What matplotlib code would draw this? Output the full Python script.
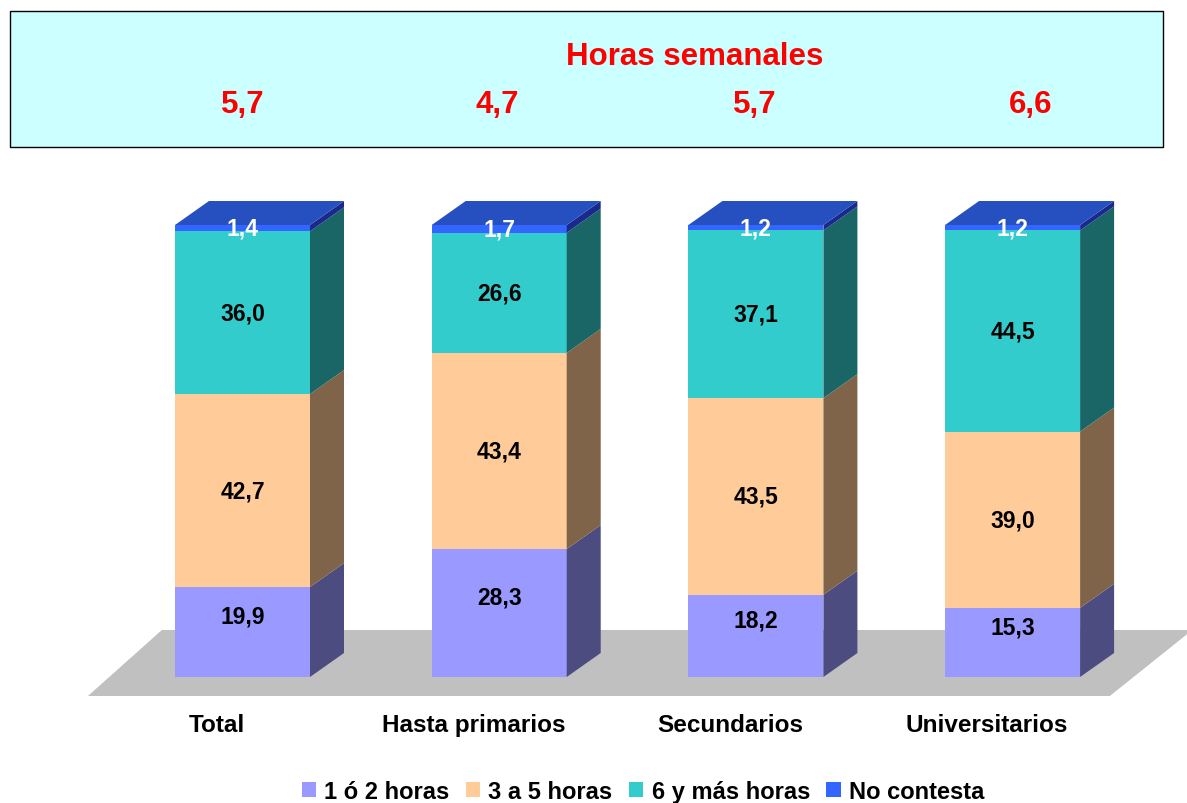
import matplotlib
matplotlib.use("Agg")
import matplotlib.pyplot as plt
from matplotlib.patches import Polygon, Rectangle, Patch
import numpy as np

# ---------------- data ----------------
categories = ["Total", "Hasta primarios", "Secundarios", "Universitarios"]
series_names = ["1 ó 2 horas", "3 a 5 horas", "6 y más horas", "No contesta"]
s_1a2 = [19.9, 28.3, 18.2, 15.3]
s_3a5 = [42.7, 43.4, 43.5, 39.0]
s_6mas = [36.0, 26.6, 37.1, 44.5]
s_nc = [1.4, 1.7, 1.2, 1.2]
horas_semanales = ["5,7", "4,7", "5,7", "6,6"]
header_title = "Horas semanales"

# ---------------- style ----------------
front_colors = ["#9999FF", "#FFCC99", "#33CCCC", "#3366FF"]
side_colors = ["#4C4C80", "#806449", "#1A6666", "#1A2A8C"]
top_color = "#264FC0"
label_colors = ["black", "black", "black", "white"]
label_dy = [3.5, 0.0, 0.0, 0.0]
FONT = "Liberation Sans"

W, H = 1187, 804
fig = plt.figure(figsize=(W / 100, H / 100), dpi=100)
ax = fig.add_axes([0, 0, 1, 1])

# pixel mapping set-up (x: category index, y: percent)
px_per_cat = 256.7
px_per_pct = 4.52
x0_px = 242.5
y0_px = 678.0
xmin = -x0_px / px_per_cat
xmax = xmin + W / px_per_cat
ymin = (y0_px - H) / px_per_pct
ymax = y0_px / px_per_pct
ax.set_xlim(xmin, xmax)
ax.set_ylim(ymin, ymax)
ax.axis("off")

bw = 135 / px_per_cat
ddx = 34 / px_per_cat
ddy = 24 / px_per_pct

# floor
floor = Polygon([(-0.602, -4.2), (3.379, -4.2), (3.70, 10.4), (-0.314, 10.4)],
                closed=True, facecolor="#C0C0C0", edgecolor="none", zorder=1)
ax.add_patch(floor)

series = [s_1a2, s_3a5, s_6mas, s_nc]
data = np.array(series)
cum = np.vstack([np.zeros(len(categories)), np.cumsum(data, axis=0)])

for i in range(len(categories)):
    xl = i - bw / 2
    xr = i + bw / 2
    for k in range(len(series)):
        b = cum[k, i]
        t = cum[k + 1, i]
        ax.add_patch(Rectangle((xl, b), bw, t - b, facecolor=front_colors[k],
                               edgecolor="none", zorder=3))
        ax.add_patch(Polygon([(xr, b), (xr + ddx, b + ddy), (xr + ddx, t + ddy), (xr, t)],
                             closed=True, facecolor=side_colors[k], edgecolor="none", zorder=3))
    ttop = cum[-1, i]
    ax.add_patch(Polygon([(xl, ttop), (xr, ttop), (xr + ddx, ttop + ddy), (xl + ddx, ttop + ddy)],
                         closed=True, facecolor=top_color, edgecolor="none", zorder=3))
    for k in range(len(series)):
        b = cum[k, i]
        t = cum[k + 1, i]
        ax.text(i, (b + t) / 2 + label_dy[k], f"{series[k][i]:.1f}".replace(".", ","),
                ha="center", va="center", fontsize=16.5, fontweight="bold",
                color=label_colors[k], family=FONT, zorder=5)
    ax.text(i - 0.1, -10.6, categories[i], ha="center", va="center",
            fontsize=17.5, fontweight="bold", family=FONT, zorder=5)

# header box
hdr = Rectangle((10 / W, 1 - 148 / H), (1163 - 10) / W, (148 - 12) / H,
                transform=fig.transFigure, facecolor="#CCFFFF", edgecolor="black",
                linewidth=1.0, zorder=0)
fig.patches.append(hdr)
fig.text(695 / W, 1 - 57 / H, header_title, ha="center", va="center", color="#FF0000",
         fontsize=22.5, fontweight="bold", family=FONT)
header_x = [243, 497, 755, 1031]
for hx, v in zip(header_x, horas_semanales):
    fig.text(hx / W, 1 - 105 / H, v, ha="center", va="center", color="#FF0000",
             fontsize=22.5, fontweight="bold", family=FONT)

# legend
handles = [Patch(facecolor=c, edgecolor="none") for c in front_colors]
leg = fig.legend(handles, series_names, loc="center", bbox_to_anchor=(643 / W, 1 - 792.5 / H),
                 ncol=4, frameon=False, handlelength=0.6, handleheight=0.6,
                 handletextpad=0.35, columnspacing=0.7,
                 prop={"family": FONT, "weight": "bold", "size": 17})

fig.savefig("out.png", dpi=100)
